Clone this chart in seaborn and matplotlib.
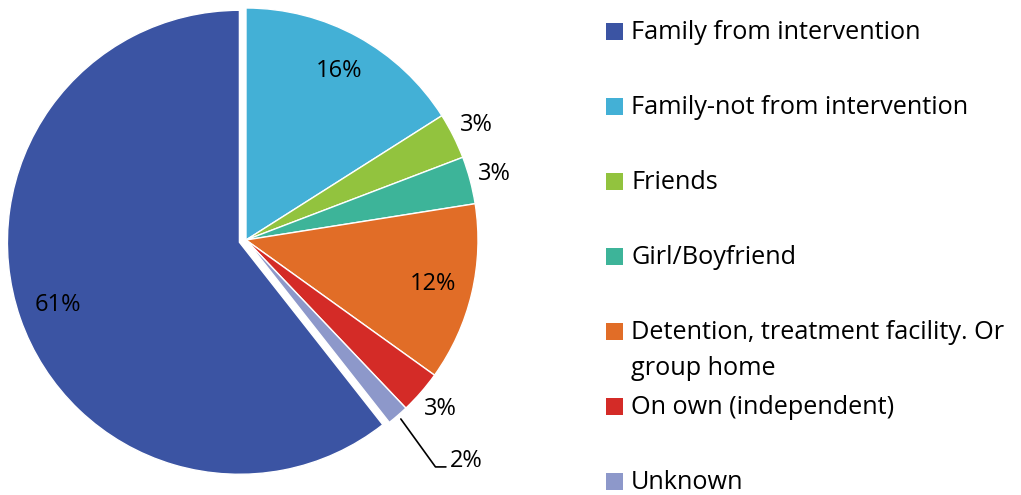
import numpy as np
import matplotlib
matplotlib.use("Agg")
import matplotlib.pyplot as plt
import seaborn as sns
from matplotlib.patches import Rectangle

# living arrangement shares (percent), legend order
categories = [
    "Family from intervention",
    "Family-not from intervention",
    "Friends",
    "Girl/Boyfriend",
    "Detention, treatment facility. Or\ngroup home",
    "On own (independent)",
    "Unknown",
]
shares = [60.6, 16.0, 3.2, 3.3, 12.4, 3.0, 1.5]
colors = ["#3B54A3", "#43B0D6", "#92C33E", "#3DB499", "#E16D27", "#D42B27", "#8D98CA"]

sns.set_theme(style="white")
plt.rcParams["font.family"] = ["Open Sans", "DejaVu Sans"]
FS_PCT = 17
FS_LEG = 18.2

W, H = 1021, 495
fig = plt.figure(figsize=(W / 100, H / 100), dpi=100)

# pie geometry in pixels
cx, cy, R = 246, 240, 232
ax = fig.add_axes([(cx - R) / W, (H - cy - R) / H, 2 * R / W, 2 * R / H])

total = sum(shares)
start = 90 + 360 * shares[0] / total
explode = [0.03] + [0] * (len(shares) - 1)
wedges, texts, autotexts = ax.pie(
    shares, colors=colors, startangle=start, counterclock=False,
    explode=explode, autopct="%.0f%%", pctdistance=0.83,
    wedgeprops=dict(edgecolor="white", linewidth=1.0),
    textprops=dict(fontsize=FS_PCT, color="black"))
ax.set_xlim(-1, 1)
ax.set_ylim(-1, 1)
ax.set_aspect("auto")

# small slices get their labels outside
for i, (w, t) in enumerate(zip(wedges, autotexts)):
    mid = np.deg2rad((w.theta1 + w.theta2) / 2)
    if i == len(wedges) - 1:
        p0 = 1.02 * np.array([np.cos(mid), np.sin(mid)])
        lead = mid - np.deg2rad(5)
        p1 = p0 + 0.255 * np.array([np.cos(lead), np.sin(lead)])
        p2 = p1 + np.array([0.045, 0])
        ax.plot([p0[0], p1[0], p2[0]], [p0[1], p1[1], p2[1]], color="black",
                lw=1.2, clip_on=False)
        t.set_position((p2[0] + 0.015, p2[1] + 0.025))
        t.set_ha("left")
    elif shares[i] < 5:
        t.set_position((1.11 * np.cos(mid), 1.11 * np.sin(mid)))

# legend drawn in pixel space
lax = fig.add_axes([0, 0, 1, 1])
lax.set_xlim(0, W)
lax.set_ylim(H, 0)
lax.axis("off")
row0, gap, line_gap = 31, 75, 36
for i, (lab, col) in enumerate(zip(categories, colors)):
    y = row0 + i * gap
    lax.add_patch(Rectangle((606, y - 8.5), 17, 17, facecolor=col, edgecolor="none"))
    for j, line in enumerate(lab.split("\n")):
        lax.text(631, y + 8 + j * line_gap, line, fontsize=FS_LEG,
                 va="baseline", ha="left", color="black")

fig.savefig("out.png", dpi=100)
